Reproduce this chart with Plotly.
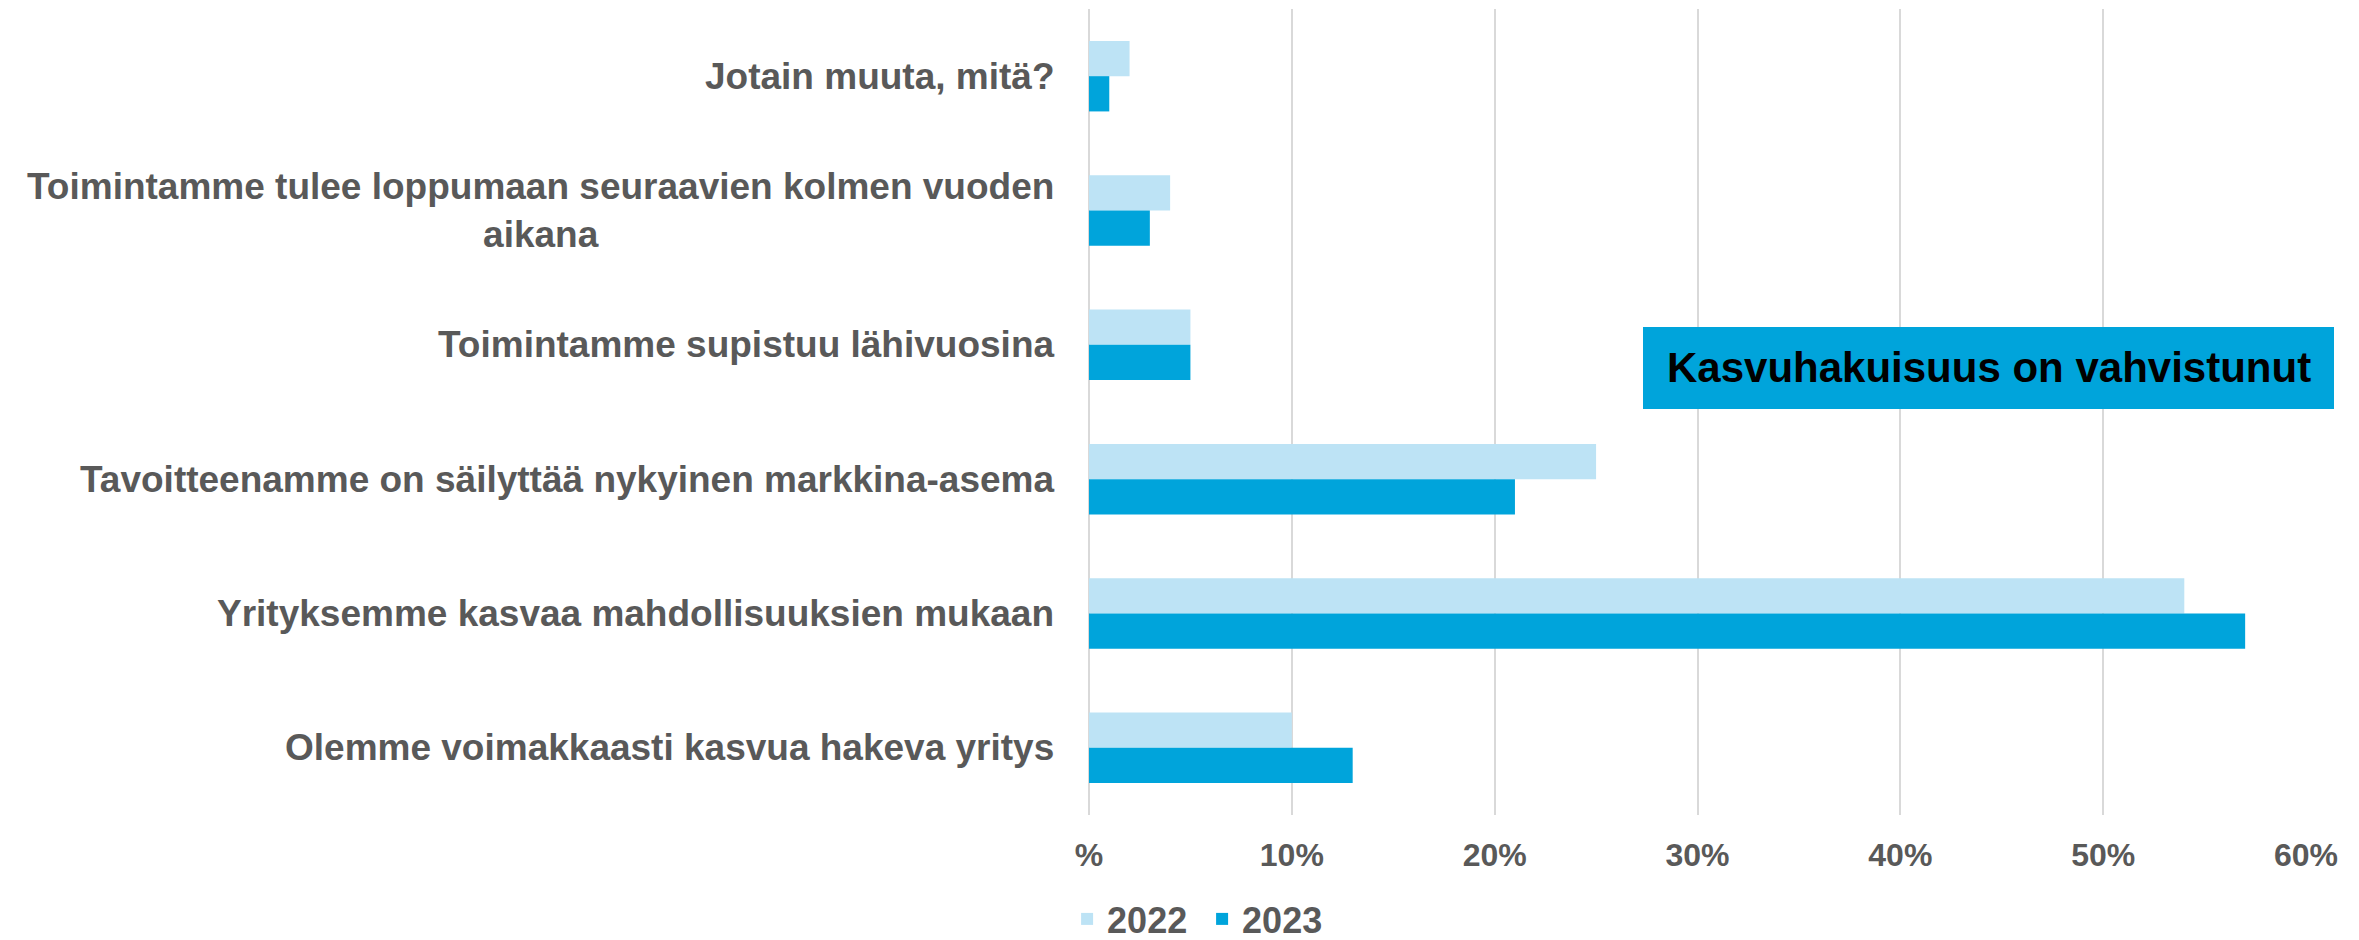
import plotly.graph_objects as go

categories = [
    "Jotain muuta, mitä?",
    "Toimintamme tulee loppumaan seuraavien kolmen vuoden<br>aikana",
    "Toimintamme supistuu lähivuosina",
    "Tavoitteenamme on säilyttää nykyinen markkina-asema",
    "Yrityksemme kasvaa mahdollisuuksien mukaan",
    "Olemme voimakkaasti kasvua hakeva yritys",
]
values_2022 = [2, 4, 5, 25, 54, 10]
values_2023 = [1, 3, 5, 21, 57, 13]
series_names = ["2022", "2023"]
tick_vals = [0, 10, 20, 30, 40, 50, 60]
tick_text = ["%", "10%", "20%", "30%", "40%", "50%", "60%"]
callout_text = "Kasvuhakuisuus on vahvistunut"

FONT = "Liberation Sans, Arial, sans-serif"
GREY = "#595959"
LIGHT = "#BDE3F5"
DARK = "#00A4DB"

fig = go.Figure()
fig.add_trace(go.Bar(y=categories, x=values_2022, name=series_names[0], orientation="h",
                     marker=dict(color=LIGHT, line=dict(width=0))))
fig.add_trace(go.Bar(y=categories, x=values_2023, name=series_names[1], orientation="h",
                     marker=dict(color=DARK, line=dict(width=0))))

W, H = 2359, 940
ml, mr, mt, mb = 1089, 53, 9, 125
pw = W - ml - mr
ph = H - mt - mb
def px_x(p): return (p - ml) / pw
def px_y(p): return (H - mb - p) / ph

fig.update_layout(
    width=W, height=H,
    margin=dict(l=ml, r=mr, t=mt, b=mb, autoexpand=False),
    barmode="group", bargap=0.475, bargroupgap=0,
    plot_bgcolor="white", paper_bgcolor="white",
    font=dict(family=FONT, color=GREY),
    showlegend=True,
    legend=dict(orientation="h", x=-0.018, xanchor="left", y=px_y(919), yanchor="middle",
                font=dict(size=36, family=FONT, color=GREY, weight="bold"),
                entrywidth=90, entrywidthmode="pixels", bgcolor="rgba(0,0,0,0)"),
)
fig.update_xaxes(range=[0, 60], tickvals=tick_vals, ticktext=tick_text,
                 showgrid=True, gridcolor="#D9D9D9", gridwidth=1.5,
                 zeroline=True, zerolinecolor="#D9D9D9", zerolinewidth=1.5,
                 showline=False, ticks="outside", ticklen=12, tickcolor="rgba(0,0,0,0)",
                 tickfont=dict(size=32, family=FONT, color=GREY, weight="bold"),
                 fixedrange=True)
fig.update_yaxes(categoryorder="array", categoryarray=categories, autorange="reversed",
                 showticklabels=False, showgrid=False, zeroline=False, showline=False,
                 ticks="", fixedrange=True)

for c in categories:
    fig.add_annotation(x=0, xref="paper", y=c, yref="y", text=c, showarrow=False,
                       xanchor="right", yanchor="middle", xshift=-33, align="center",
                       font=dict(size=37, family=FONT, color=GREY, weight="bold"))

# callout box
fig.add_shape(type="rect", xref="paper", yref="paper",
              x0=px_x(1643), x1=px_x(2334), y0=px_y(409), y1=px_y(327),
              fillcolor=DARK, line=dict(width=0), layer="above")
fig.add_annotation(x=px_x(1989), y=px_y(367), xref="paper", yref="paper",
                   text=callout_text, showarrow=False, xanchor="center", yanchor="middle",
                   font=dict(size=42, family=FONT, color="black", weight="bold"))

fig.write_html("out.html", config={"displayModeBar": False},
               post_script="document.body.style.margin='0';")
